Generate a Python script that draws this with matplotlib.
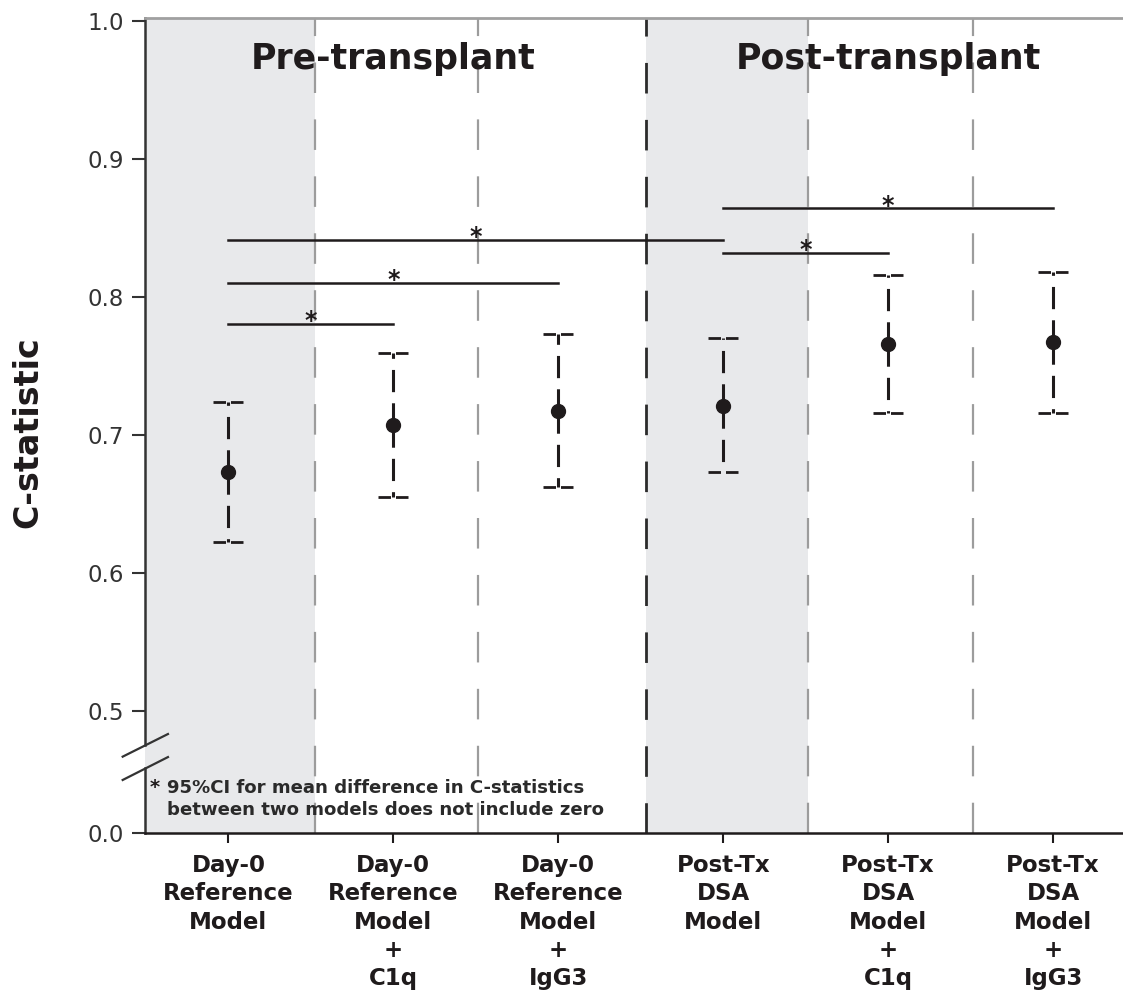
import numpy as np
import matplotlib.pyplot as plt
import matplotlib.transforms as mtransforms

plt.rcParams["font.family"] = "DejaVu Sans"
plt.rcParams["lines.scale_dashes"] = False

# C-statistics with 95% CI for each model
models = [
    "Day-0\nReference\nModel",
    "Day-0\nReference\nModel\n+\nC1q",
    "Day-0\nReference\nModel\n+\nIgG3",
    "Post-Tx\nDSA\nModel",
    "Post-Tx\nDSA\nModel\n+\nC1q",
    "Post-Tx\nDSA\nModel\n+\nIgG3",
]
c_stat = [0.673, 0.707, 0.717, 0.721, 0.766, 0.767]
ci_low = [0.622, 0.655, 0.662, 0.673, 0.716, 0.716]
ci_high = [0.724, 0.759, 0.773, 0.770, 0.816, 0.818]

# significant pairwise comparisons and the height of their brackets
pairs = [(0, 1), (0, 2), (0, 3), (3, 4), (3, 5)]
pair_levels = [0.780, 0.810, 0.841, 0.832, 0.864]

groups = ["Pre-transplant", "Post-transplant"]
group_centres = [1, 4]

ink = "#1f1b1c"
y_zero = 0.4116   # where "0.0" sits below the axis break
y_top = 1.0017

fig = plt.figure(figsize=(11.23, 10), dpi=100)
ax = fig.add_axes([0.1291, 0.1673, 0.8709, 0.8144])
x = np.arange(len(models))
ax.set_xlim(-0.506, 5.424)
ax.set_ylim(y_zero, y_top)

# grey reference columns
for lo, hi in [(-0.506, 0.522), (2.53, 3.512)]:
    ax.axvspan(lo, hi, color="#e8e9eb", lw=0, zorder=0)

# dashed column separators
for i, xs in enumerate([0.522, 1.516, 2.53, 3.512, 4.512]):
    dark = i == 2
    ax.plot([xs, xs], [y_top, y_zero], color="#2b2b2b" if dark else "#9c9c9c",
            lw=2.0 if dark else 1.6, linestyle=(9, (22, 19)), zorder=1)

# error bars drawn outward from each point
for xi, m, lo, hi in zip(x, c_stat, ci_low, ci_high):
    for end in (hi, lo):
        ax.plot([xi, xi], [m, end], color=ink, lw=2.2, linestyle=(0, (16, 8)), zorder=3)
    ax.hlines([lo, hi], xi - 0.091, xi + 0.091, colors=ink, lw=2.0,
              linestyles=[(0, (9, 3.6, 9, 30))], zorder=3)
ax.plot(x, c_stat, "o", color=ink, ms=10, zorder=4)

# comparison brackets
for (a, b), lvl in zip(pairs, pair_levels):
    ax.plot([x[a], x[b]], [lvl, lvl], color=ink, lw=1.8, zorder=2)
    ax.annotate("*", ((x[a] + x[b]) / 2, lvl), xytext=(0, -3), textcoords="offset points",
                ha="center", va="baseline", fontsize=17, fontweight="bold", color=ink, zorder=5)

for name, xc in zip(groups, group_centres):
    ax.text(xc, 0.965, name, ha="center", va="baseline", fontsize=25,
            fontweight="bold", color=ink)

# footnote
ax.text(-0.480, 0.4406, "*", ha="left", va="baseline", fontsize=14, fontweight="bold", color=ink)
ax.text(-0.373, 0.4406, "95%CI for mean difference in C-statistics",
        ha="left", va="baseline", fontsize=13.1, fontweight="bold", color="#2a2a2a")
ax.text(-0.373, 0.4246, "between two models does not include zero",
        ha="left", va="baseline", fontsize=13.1, fontweight="bold", color="#2a2a2a")

# axes, ticks and the broken left spine
ax.spines["right"].set_visible(False)
ax.spines["left"].set_visible(False)
ax.spines["top"].set_color("#a0a0a0")
ax.spines["top"].set_linewidth(2.0)
ax.spines["bottom"].set_color(ink)
ax.spines["bottom"].set_linewidth(1.8)

trans = mtransforms.blended_transform_factory(ax.transAxes, ax.transData)
for y0, y1 in [(y_zero, 0.4585), (0.4751, y_top)]:
    ax.plot([0, 0], [y0, y1], color="#333333", lw=1.8, transform=trans, clip_on=False)
for y0, y1 in [(0.4667, 0.4831), (0.4498, 0.4664)]:
    ax.plot([-0.0228, 0.0235], [y0, y1], color="#333333", lw=1.6, transform=trans, clip_on=False)

ax.set_yticks([y_zero, 0.5, 0.6, 0.7, 0.8, 0.9, 1.0])
ax.set_yticklabels(["0.0", "0.5", "0.6", "0.7", "0.8", "0.9", "1.0"])
ax.tick_params(axis="y", length=9.4, width=1.5, pad=6, labelsize=16.5,
               color="#333333", labelcolor="#333333")

ax.set_xticks(x)
ax.set_xticklabels(models, fontsize=16.5, fontweight="bold", linespacing=1.3, color=ink)
ax.tick_params(axis="x", length=7.2, width=1.5, pad=8, color=ink)

fig.text(28 / 1123, 1 - 432 / 1000, "C-statistic", rotation=90, ha="center", va="center",
         fontsize=24, fontweight="bold", color=ink)

fig.savefig("out.png", dpi=100)
